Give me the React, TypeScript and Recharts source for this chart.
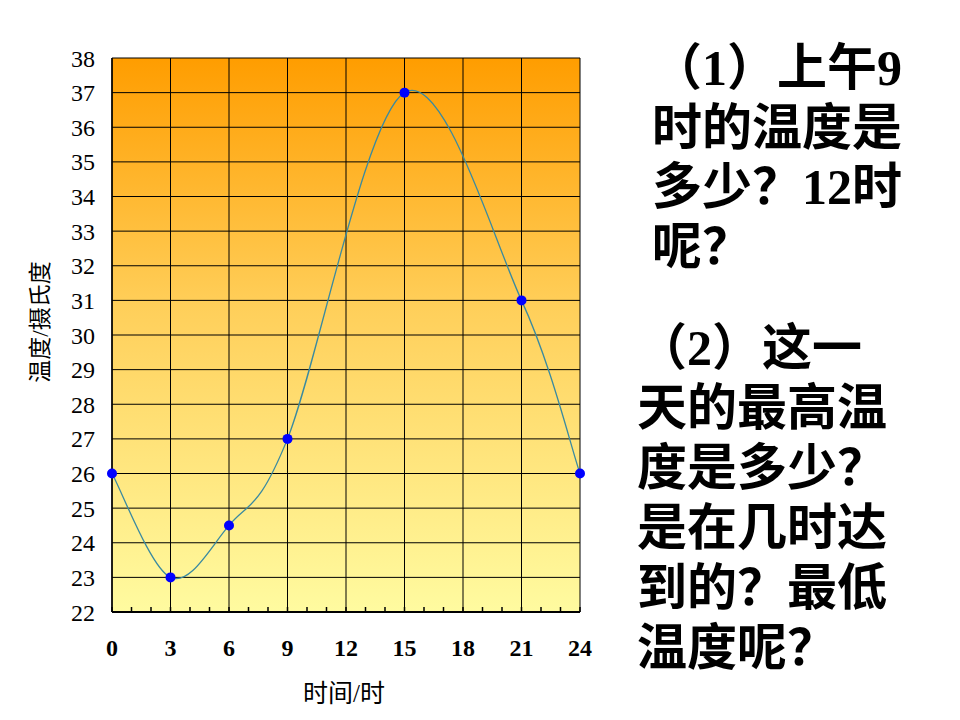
import React from 'react';
import { LineChart, Line, XAxis, YAxis, CartesianGrid } from 'recharts';

// 时刻（时）与温度（摄氏度）
const hours = [0, 3, 6, 9, 15, 21, 24];
const temps = [26, 23, 24.5, 27, 37, 31, 26];

const xDomain = [0, 24];
const xGridValues = [0, 3, 6, 9, 12, 15, 18, 21, 24];
const xTicks = [0, 1, 2, 3, 4, 5, 6, 7, 8, 9, 10, 11, 12, 13, 14, 15, 16, 17, 18, 19, 20, 21, 22, 23, 24];
const yTicks = [22, 23, 24, 25, 26, 27, 28, 29, 30, 31, 32, 33, 34, 35, 36, 37, 38];

const question1 = ['（1）上午9', '时的温度是', '多少？12时', '呢？'];
const question2 = ['（2）这一', '天的最高温', '度是多少？', '是在几时达', '到的？最低', '温度呢？'];

const data = hours.map((h, i) => ({ hour: h, temp: temps[i] }));

const textFont = '"Liberation Serif", "Noto Sans CJK SC", serif';
const X_TICK_MARGIN = 27;

// Excel-like smoothed line (uniform Catmull-Rom through the points)
const smoothCurve = (context: any) => {
  let pts: number[][] = [];
  return {
    areaStart() {},
    areaEnd() {},
    lineStart() {
      pts = [];
    },
    lineEnd() {
      if (!pts.length) return;
      context.moveTo(pts[0][0], pts[0][1]);
      for (let i = 0; i < pts.length - 1; i++) {
        const p0 = pts[i - 1] || pts[i];
        const p1 = pts[i];
        const p2 = pts[i + 1];
        const p3 = pts[i + 2] || p2;
        context.bezierCurveTo(
          p1[0] + (p2[0] - p0[0]) / 6,
          p1[1] + (p2[1] - p0[1]) / 6,
          p2[0] - (p3[0] - p1[0]) / 6,
          p2[1] - (p3[1] - p1[1]) / 6,
          p2[0],
          p2[1]
        );
      }
    },
    point(x: number, y: number) {
      pts.push([+x, +y]);
    },
  };
};

// vertical grid only every 3 hours
const verticalGrid = ({ xAxis, offset }: any) =>
  xGridValues.map((v) => {
    if (xAxis && typeof xAxis.scale === 'function') return xAxis.scale(v);
    return offset.left + (offset.width * (v - xDomain[0])) / (xDomain[1] - xDomain[0]);
  });

function XTick(props: any) {
  const { x, y, payload } = props;
  const v = payload.value;
  const axisY = y - X_TICK_MARGIN;
  return (
    <g>
      <line x1={x} x2={x} y1={axisY} y2={axisY - 5} stroke="#000" strokeWidth={1.5} />
      {v % 3 === 0 && (
        <text x={x} y={y} dy="0.71em" textAnchor="middle" fill="#000" fontSize={24} fontWeight="bold" fontFamily={textFont}>
          {v}
        </text>
      )}
    </g>
  );
}

function YTick(props: any) {
  const { x, y, payload } = props;
  return (
    <text x={x} y={y} dy="0.355em" textAnchor="end" fill="#000" fontSize={24} fontFamily={textFont}>
      {payload.value}
    </text>
  );
}

export default function App() {
  return (
    <div style={{ position: 'absolute', left: 0, top: 0, width: 960, height: 720, background: '#fff' }}>
      <svg width={0} height={0} style={{ position: 'absolute' }}>
        <defs>
          <linearGradient id="bg" x1="0" y1="0" x2="0" y2="1">
            <stop offset="0%" stopColor="#FF9D00" />
            <stop offset="45%" stopColor="#FFCF5A" />
            <stop offset="100%" stopColor="#FFFBA0" />
          </linearGradient>
        </defs>
      </svg>

      <div style={{ position: 'absolute', left: 0, top: 0 }}>
        <LineChart width={620} height={720} data={data} margin={{ top: 58, right: 40, left: 50, bottom: 48 }}>
          <CartesianGrid
            stroke="#000"
            strokeWidth={1}
            fill="url(#bg)"
            fillOpacity={1}
            verticalCoordinatesGenerator={verticalGrid}
          />
          <XAxis
            dataKey="hour"
            type="number"
            domain={xDomain}
            ticks={xTicks}
            interval={0}
            height={60}
            tickSize={0}
            tickMargin={X_TICK_MARGIN}
            tickLine={false}
            axisLine={{ stroke: '#000', strokeWidth: 2 }}
            tick={<XTick />}
          />
          <YAxis
            type="number"
            domain={[22, 38]}
            ticks={yTicks}
            interval={0}
            width={62}
            tickSize={0}
            tickMargin={17}
            tickLine={false}
            axisLine={{ stroke: '#000', strokeWidth: 1.5 }}
            tick={<YTick />}
          />
          <Line
            dataKey="temp"
            type={smoothCurve as any}
            stroke="#3A8AA0"
            strokeWidth={1.3}
            dot={{ r: 5, fill: '#0000FF', stroke: '#0000FF', strokeWidth: 0 }}
            activeDot={false}
            isAnimationActive={false}
          />
        </LineChart>
      </div>

      <div
        style={{
          position: 'absolute',
          left: 38,
          top: 322,
          transform: 'translate(-50%, -50%) rotate(-90deg)',
          fontFamily: textFont,
          fontSize: 23,
          fontWeight: 400,
          whiteSpace: 'nowrap',
          color: '#000',
        }}
      >
        温度/摄氏度
      </div>

      <div
        style={{
          position: 'absolute',
          left: 344,
          top: 691,
          transform: 'translate(-50%, -50%)',
          fontFamily: textFont,
          fontSize: 25,
          fontWeight: 400,
          whiteSpace: 'nowrap',
          color: '#000',
        }}
      >
        时间/时
      </div>

      <div
        style={{
          position: 'absolute',
          left: 652,
          top: 39,
          fontFamily: textFont,
          fontSize: 50,
          fontWeight: 'bold',
          lineHeight: '59.5px',
          whiteSpace: 'nowrap',
          color: '#000',
        }}
      >
        {question1.map((line) => (
          <div key={line}>{line}</div>
        ))}
      </div>

      <div
        style={{
          position: 'absolute',
          left: 637,
          top: 318,
          fontFamily: textFont,
          fontSize: 50,
          fontWeight: 'bold',
          lineHeight: '60px',
          whiteSpace: 'nowrap',
          color: '#000',
        }}
      >
        {question2.map((line) => (
          <div key={line}>{line}</div>
        ))}
      </div>
    </div>
  );
}
